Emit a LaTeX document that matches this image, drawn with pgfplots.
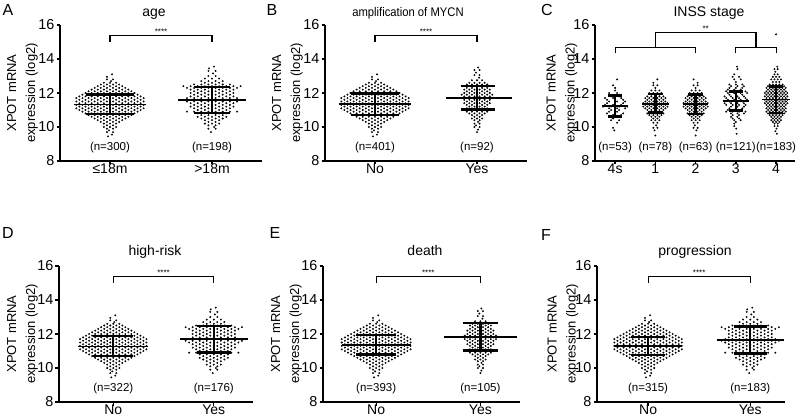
\documentclass[border=0pt]{standalone}
\usepackage{pgfplots}
\usepackage{pgfplotstable}
\pgfplotsset{compat=1.18}
\usepackage{fontspec}
\setmainfont{Liberation Sans}
\newcommand{\fs}[1]{\fontsize{#1}{#1}\selectfont}

% ---- beeswarm point clouds (x = offset from category, y = log2 expression)
\pgfplotstableread[row sep=\\]{
x y\\
0.02 13.10\\ -0.03 12.95\\ -0.03 12.80\\ 0.03 12.80\\ 0.01 12.70\\
-0.06 12.60\\ 0 12.60\\ 0.06 12.60\\
-0.09 12.50\\ -0.03 12.50\\ 0.03 12.50\\ 0.09 12.50\\
-0.12 12.40\\ -0.06 12.40\\ 0 12.40\\ 0.06 12.40\\ 0.12 12.40\\
-0.15 12.30\\ -0.09 12.30\\ -0.03 12.30\\ 0.03 12.30\\ 0.09 12.30\\ 0.15 12.30\\
-0.18 12.20\\ -0.12 12.20\\ -0.06 12.20\\ 0 12.20\\ 0.06 12.20\\ 0.12 12.20\\ 0.18 12.20\\
-0.21 12.10\\ -0.15 12.10\\ -0.09 12.10\\ -0.03 12.10\\ 0.03 12.10\\ 0.09 12.10\\ 0.15 12.10\\ 0.21 12.10\\
-0.24 12.00\\ -0.18 12.00\\ -0.12 12.00\\ -0.06 12.00\\ 0 12.00\\ 0.06 12.00\\ 0.12 12.00\\ 0.18 12.00\\ 0.24 12.00\\
-0.27 11.90\\ -0.21 11.90\\ -0.15 11.90\\ -0.09 11.90\\ -0.03 11.90\\ 0.03 11.90\\ 0.09 11.90\\ 0.15 11.90\\ 0.21 11.90\\ 0.27 11.90\\
-0.30 11.80\\ -0.24 11.80\\ -0.18 11.80\\ -0.12 11.80\\ -0.06 11.80\\ 0 11.80\\ 0.06 11.80\\ 0.12 11.80\\ 0.18 11.80\\ 0.24 11.80\\ 0.30 11.80\\
-0.33 11.70\\ -0.27 11.70\\ -0.21 11.70\\ -0.15 11.70\\ -0.09 11.70\\ -0.03 11.70\\ 0.03 11.70\\ 0.09 11.70\\ 0.15 11.70\\ 0.21 11.70\\ 0.27 11.70\\ 0.33 11.70\\
-0.30 11.60\\ -0.24 11.60\\ -0.18 11.60\\ -0.12 11.60\\ -0.06 11.60\\ 0 11.60\\ 0.06 11.60\\ 0.12 11.60\\ 0.18 11.60\\ 0.24 11.60\\ 0.30 11.60\\
-0.33 11.50\\ -0.27 11.50\\ -0.21 11.50\\ -0.15 11.50\\ -0.09 11.50\\ -0.03 11.50\\ 0.03 11.50\\ 0.09 11.50\\ 0.15 11.50\\ 0.21 11.50\\ 0.27 11.50\\ 0.33 11.50\\
-0.30 11.40\\ -0.24 11.40\\ -0.18 11.40\\ -0.12 11.40\\ -0.06 11.40\\ 0 11.40\\ 0.06 11.40\\ 0.12 11.40\\ 0.18 11.40\\ 0.24 11.40\\ 0.30 11.40\\
-0.33 11.30\\ -0.27 11.30\\ -0.21 11.30\\ -0.15 11.30\\ -0.09 11.30\\ -0.03 11.30\\ 0.03 11.30\\ 0.09 11.30\\ 0.15 11.30\\ 0.21 11.30\\ 0.27 11.30\\ 0.33 11.30\\
-0.30 11.20\\ -0.24 11.20\\ -0.18 11.20\\ -0.12 11.20\\ -0.06 11.20\\ 0 11.20\\ 0.06 11.20\\ 0.12 11.20\\ 0.18 11.20\\ 0.24 11.20\\ 0.30 11.20\\
-0.33 11.10\\ -0.27 11.10\\ -0.21 11.10\\ -0.15 11.10\\ -0.09 11.10\\ -0.03 11.10\\ 0.03 11.10\\ 0.09 11.10\\ 0.15 11.10\\ 0.21 11.10\\ 0.27 11.10\\ 0.33 11.10\\
-0.30 11.00\\ -0.24 11.00\\ -0.18 11.00\\ -0.12 11.00\\ -0.06 11.00\\ 0 11.00\\ 0.06 11.00\\ 0.12 11.00\\ 0.18 11.00\\ 0.24 11.00\\ 0.30 11.00\\
-0.27 10.90\\ -0.21 10.90\\ -0.15 10.90\\ -0.09 10.90\\ -0.03 10.90\\ 0.03 10.90\\ 0.09 10.90\\ 0.15 10.90\\ 0.21 10.90\\ 0.27 10.90\\
-0.24 10.80\\ -0.18 10.80\\ -0.12 10.80\\ -0.06 10.80\\ 0 10.80\\ 0.06 10.80\\ 0.12 10.80\\ 0.18 10.80\\ 0.24 10.80\\
-0.21 10.70\\ -0.15 10.70\\ -0.09 10.70\\ -0.03 10.70\\ 0.03 10.70\\ 0.09 10.70\\ 0.15 10.70\\ 0.21 10.70\\
-0.18 10.60\\ -0.12 10.60\\ -0.06 10.60\\ 0 10.60\\ 0.06 10.60\\ 0.12 10.60\\ 0.18 10.60\\
-0.15 10.50\\ -0.09 10.50\\ -0.03 10.50\\ 0.03 10.50\\ 0.09 10.50\\ 0.15 10.50\\
-0.12 10.40\\ -0.06 10.40\\ 0 10.40\\ 0.06 10.40\\ 0.12 10.40\\
-0.09 10.30\\ -0.03 10.30\\ 0.03 10.30\\ 0.09 10.30\\
-0.06 10.20\\ 0 10.20\\ 0.06 10.20\\
-0.03 10.10\\ 0.03 10.10\\
-0.06 10.00\\ 0 10.00\\ 0.06 10.00\\
-0.03 9.90\\ 0.03 9.90\\
-0.01 9.80\\ -0.03 9.70\\ 0.03 9.70\\ 0.02 9.55\\ -0.02 9.45\\
}\NOtab

\pgfplotstableread[row sep=\\]{
x y\\
0.02 13.55\\ -0.03 13.45\\ -0.035 13.30\\ 0.035 13.30\\ 0.01 13.15\\ -0.035 13.00\\ 0.035 13.00\\
-0.07 12.85\\ 0 12.85\\ 0.07 12.85\\
-0.105 12.70\\ -0.035 12.70\\ 0.035 12.70\\ 0.105 12.70\\
-0.07 12.60\\ 0 12.60\\ 0.07 12.60\\
-0.175 12.50\\ -0.105 12.50\\ -0.035 12.50\\ 0.035 12.50\\ 0.105 12.50\\ 0.175 12.50\\
-0.28 12.40\\ -0.21 12.40\\ -0.14 12.40\\ -0.07 12.40\\ 0 12.40\\ 0.07 12.40\\ 0.14 12.40\\ 0.21 12.40\\ 0.28 12.40\\
-0.245 12.30\\ -0.175 12.30\\ -0.105 12.30\\ -0.035 12.30\\ 0.035 12.30\\ 0.105 12.30\\ 0.175 12.30\\ 0.245 12.30\\
-0.21 12.20\\ -0.14 12.20\\ -0.07 12.20\\ 0 12.20\\ 0.07 12.20\\ 0.14 12.20\\ 0.21 12.20\\
-0.175 12.10\\ -0.105 12.10\\ -0.035 12.10\\ 0.035 12.10\\ 0.105 12.10\\ 0.175 12.10\\
-0.21 12.00\\ -0.14 12.00\\ -0.07 12.00\\ 0 12.00\\ 0.07 12.00\\ 0.14 12.00\\ 0.21 12.00\\
-0.175 11.90\\ -0.105 11.90\\ -0.035 11.90\\ 0.035 11.90\\ 0.105 11.90\\ 0.175 11.90\\
-0.21 11.80\\ -0.14 11.80\\ -0.07 11.80\\ 0 11.80\\ 0.07 11.80\\ 0.14 11.80\\ 0.21 11.80\\
-0.245 11.70\\ -0.175 11.70\\ -0.105 11.70\\ -0.035 11.70\\ 0.035 11.70\\ 0.105 11.70\\ 0.175 11.70\\ 0.245 11.70\\
-0.28 11.60\\ -0.21 11.60\\ -0.14 11.60\\ -0.07 11.60\\ 0 11.60\\ 0.07 11.60\\ 0.14 11.60\\ 0.21 11.60\\ 0.28 11.60\\
-0.245 11.50\\ -0.175 11.50\\ -0.105 11.50\\ -0.035 11.50\\ 0.035 11.50\\ 0.105 11.50\\ 0.175 11.50\\ 0.245 11.50\\
-0.21 11.40\\ -0.14 11.40\\ -0.07 11.40\\ 0 11.40\\ 0.07 11.40\\ 0.14 11.40\\ 0.21 11.40\\
-0.175 11.30\\ -0.105 11.30\\ -0.035 11.30\\ 0.035 11.30\\ 0.105 11.30\\ 0.175 11.30\\
-0.21 11.20\\ -0.14 11.20\\ -0.07 11.20\\ 0 11.20\\ 0.07 11.20\\ 0.14 11.20\\ 0.21 11.20\\
-0.175 11.10\\ -0.105 11.10\\ -0.035 11.10\\ 0.035 11.10\\ 0.105 11.10\\ 0.175 11.10\\
-0.14 11.00\\ -0.07 11.00\\ 0 11.00\\ 0.07 11.00\\ 0.14 11.00\\
-0.245 10.90\\ -0.175 10.90\\ -0.105 10.90\\ -0.035 10.90\\ 0.035 10.90\\ 0.105 10.90\\ 0.175 10.90\\ 0.245 10.90\\
-0.14 10.80\\ -0.07 10.80\\ 0 10.80\\ 0.07 10.80\\ 0.14 10.80\\
-0.105 10.70\\ -0.035 10.70\\ 0.035 10.70\\ 0.105 10.70\\
-0.14 10.60\\ -0.07 10.60\\ 0 10.60\\ 0.07 10.60\\ 0.14 10.60\\
-0.105 10.50\\ -0.035 10.50\\ 0.035 10.50\\ 0.105 10.50\\
-0.07 10.40\\ 0 10.40\\ 0.07 10.40\\
-0.035 10.30\\ 0.035 10.30\\
-0.07 10.20\\ 0 10.20\\ 0.07 10.20\\
-0.035 10.10\\ 0.035 10.10\\
0.02 10.00\\ -0.035 9.90\\ 0.035 9.90\\ -0.01 9.70\\
}\YWtab

\pgfplotstableread[row sep=\\]{
x y\\
0.01 13.50\\ -0.025 13.35\\ 0.025 13.35\\ -0.01 13.20\\ -0.025 13.05\\ 0.025 13.05\\ 0.02 12.90\\
-0.05 12.75\\ 0 12.75\\ 0.05 12.75\\
-0.075 12.60\\ -0.025 12.60\\ 0.025 12.60\\ 0.075 12.60\\
-0.10 12.50\\ -0.05 12.50\\ 0 12.50\\ 0.05 12.50\\ 0.10 12.50\\
-0.075 12.40\\ -0.025 12.40\\ 0.025 12.40\\ 0.075 12.40\\
-0.10 12.30\\ -0.05 12.30\\ 0 12.30\\ 0.05 12.30\\ 0.10 12.30\\
-0.125 12.20\\ -0.075 12.20\\ -0.025 12.20\\ 0.025 12.20\\ 0.075 12.20\\ 0.125 12.20\\
-0.10 12.10\\ -0.05 12.10\\ 0 12.10\\ 0.05 12.10\\ 0.10 12.10\\
-0.125 12.00\\ -0.075 12.00\\ -0.025 12.00\\ 0.025 12.00\\ 0.075 12.00\\ 0.125 12.00\\
-0.15 11.90\\ -0.10 11.90\\ -0.05 11.90\\ 0 11.90\\ 0.05 11.90\\ 0.10 11.90\\ 0.15 11.90\\
-0.125 11.80\\ -0.075 11.80\\ -0.025 11.80\\ 0.025 11.80\\ 0.075 11.80\\ 0.125 11.80\\
-0.15 11.70\\ -0.10 11.70\\ -0.05 11.70\\ 0 11.70\\ 0.05 11.70\\ 0.10 11.70\\ 0.15 11.70\\
-0.125 11.60\\ -0.075 11.60\\ -0.025 11.60\\ 0.025 11.60\\ 0.075 11.60\\ 0.125 11.60\\
-0.10 11.50\\ -0.05 11.50\\ 0 11.50\\ 0.05 11.50\\ 0.10 11.50\\
-0.125 11.40\\ -0.075 11.40\\ -0.025 11.40\\ 0.025 11.40\\ 0.075 11.40\\ 0.125 11.40\\
-0.10 11.30\\ -0.05 11.30\\ 0 11.30\\ 0.05 11.30\\ 0.10 11.30\\
-0.075 11.20\\ -0.025 11.20\\ 0.025 11.20\\ 0.075 11.20\\
-0.10 11.10\\ -0.05 11.10\\ 0 11.10\\ 0.05 11.10\\ 0.10 11.10\\
-0.075 11.00\\ -0.025 11.00\\ 0.025 11.00\\ 0.075 11.00\\
-0.10 10.90\\ -0.05 10.90\\ 0 10.90\\ 0.05 10.90\\ 0.10 10.90\\
-0.075 10.80\\ -0.025 10.80\\ 0.025 10.80\\ 0.075 10.80\\
-0.05 10.70\\ 0 10.70\\ 0.05 10.70\\
-0.025 10.60\\ 0.025 10.60\\
-0.05 10.50\\ 0 10.50\\ 0.05 10.50\\
-0.025 10.40\\ 0.025 10.40\\
0.01 10.30\\ -0.025 10.20\\ 0.025 10.20\\ -0.01 10.10\\ -0.025 10.00\\ 0.025 10.00\\
0.01 9.85\\ 0 9.70\\
}\YNtab

\pgfplotstableread[row sep=\\]{
x y\\
0.05 12.80\\ -0.05 12.60\\ -0.05 12.45\\ 0.05 12.45\\ 0 12.30\\
-0.1 12.15\\ 0 12.15\\ 0.1 12.15\\
-0.15 12.00\\ -0.05 12.00\\ 0.05 12.00\\ 0.15 12.00\\
-0.1 11.90\\ 0 11.90\\ 0.1 11.90\\
-0.2 11.80\\ -0.1 11.80\\ 0 11.80\\ 0.1 11.80\\ 0.2 11.80\\
-0.25 11.70\\ -0.15 11.70\\ -0.05 11.70\\ 0.05 11.70\\ 0.15 11.70\\ 0.25 11.70\\
-0.2 11.60\\ -0.1 11.60\\ 0 11.60\\ 0.1 11.60\\ 0.2 11.60\\
-0.25 11.50\\ -0.15 11.50\\ -0.05 11.50\\ 0.05 11.50\\ 0.15 11.50\\ 0.25 11.50\\
-0.3 11.40\\ -0.2 11.40\\ -0.1 11.40\\ 0 11.40\\ 0.1 11.40\\ 0.2 11.40\\ 0.3 11.40\\
-0.25 11.30\\ -0.15 11.30\\ -0.05 11.30\\ 0.05 11.30\\ 0.15 11.30\\ 0.25 11.30\\
-0.3 11.20\\ -0.2 11.20\\ -0.1 11.20\\ 0 11.20\\ 0.1 11.20\\ 0.2 11.20\\ 0.3 11.20\\
-0.25 11.10\\ -0.15 11.10\\ -0.05 11.10\\ 0.05 11.10\\ 0.15 11.10\\ 0.25 11.10\\
-0.2 11.00\\ -0.1 11.00\\ 0 11.00\\ 0.1 11.00\\ 0.2 11.00\\
-0.15 10.90\\ -0.05 10.90\\ 0.05 10.90\\ 0.15 10.90\\
-0.2 10.80\\ -0.1 10.80\\ 0 10.80\\ 0.1 10.80\\ 0.2 10.80\\
-0.15 10.70\\ -0.05 10.70\\ 0.05 10.70\\ 0.15 10.70\\
-0.1 10.60\\ 0 10.60\\ 0.1 10.60\\
-0.05 10.50\\ 0.05 10.50\\
-0.1 10.40\\ 0 10.40\\ 0.1 10.40\\
-0.05 10.25\\ 0.05 10.25\\ 0.02 10.10\\ -0.05 9.95\\ 0.05 9.95\\ -0.02 9.80\\ 0 9.50\\
}\CStab

\pgfplotstableread[row sep=\\]{
x y\\
0.03 13.55\\ -0.04 13.40\\ 0.04 13.40\\ -0.02 13.25\\ -0.04 13.10\\ 0.04 13.10\\
-0.08 12.95\\ 0 12.95\\ 0.08 12.95\\
-0.12 12.80\\ -0.04 12.80\\ 0.04 12.80\\ 0.12 12.80\\
-0.08 12.65\\ 0 12.65\\ 0.08 12.65\\
-0.16 12.50\\ -0.08 12.50\\ 0 12.50\\ 0.08 12.50\\ 0.16 12.50\\
-0.2 12.40\\ -0.12 12.40\\ -0.04 12.40\\ 0.04 12.40\\ 0.12 12.40\\ 0.2 12.40\\
-0.24 12.30\\ -0.16 12.30\\ -0.08 12.30\\ 0 12.30\\ 0.08 12.30\\ 0.16 12.30\\ 0.24 12.30\\
-0.2 12.20\\ -0.12 12.20\\ -0.04 12.20\\ 0.04 12.20\\ 0.12 12.20\\ 0.2 12.20\\
-0.24 12.10\\ -0.16 12.10\\ -0.08 12.10\\ 0 12.10\\ 0.08 12.10\\ 0.16 12.10\\ 0.24 12.10\\
-0.28 12.00\\ -0.2 12.00\\ -0.12 12.00\\ -0.04 12.00\\ 0.04 12.00\\ 0.12 12.00\\ 0.2 12.00\\ 0.28 12.00\\
-0.24 11.90\\ -0.16 11.90\\ -0.08 11.90\\ 0 11.90\\ 0.08 11.90\\ 0.16 11.90\\ 0.24 11.90\\
-0.28 11.80\\ -0.2 11.80\\ -0.12 11.80\\ -0.04 11.80\\ 0.04 11.80\\ 0.12 11.80\\ 0.2 11.80\\ 0.28 11.80\\
-0.24 11.70\\ -0.16 11.70\\ -0.08 11.70\\ 0 11.70\\ 0.08 11.70\\ 0.16 11.70\\ 0.24 11.70\\
-0.28 11.60\\ -0.2 11.60\\ -0.12 11.60\\ -0.04 11.60\\ 0.04 11.60\\ 0.12 11.60\\ 0.2 11.60\\ 0.28 11.60\\
-0.24 11.50\\ -0.16 11.50\\ -0.08 11.50\\ 0 11.50\\ 0.08 11.50\\ 0.16 11.50\\ 0.24 11.50\\
-0.28 11.40\\ -0.2 11.40\\ -0.12 11.40\\ -0.04 11.40\\ 0.04 11.40\\ 0.12 11.40\\ 0.2 11.40\\ 0.28 11.40\\
-0.24 11.30\\ -0.16 11.30\\ -0.08 11.30\\ 0 11.30\\ 0.08 11.30\\ 0.16 11.30\\ 0.24 11.30\\
-0.2 11.20\\ -0.12 11.20\\ -0.04 11.20\\ 0.04 11.20\\ 0.12 11.20\\ 0.2 11.20\\
-0.24 11.10\\ -0.16 11.10\\ -0.08 11.10\\ 0 11.10\\ 0.08 11.10\\ 0.16 11.10\\ 0.24 11.10\\
-0.2 11.00\\ -0.12 11.00\\ -0.04 11.00\\ 0.04 11.00\\ 0.12 11.00\\ 0.2 11.00\\
-0.24 10.90\\ -0.16 10.90\\ -0.08 10.90\\ 0 10.90\\ 0.08 10.90\\ 0.16 10.90\\ 0.24 10.90\\
-0.2 10.80\\ -0.12 10.80\\ -0.04 10.80\\ 0.04 10.80\\ 0.12 10.80\\ 0.2 10.80\\
-0.16 10.70\\ -0.08 10.70\\ 0 10.70\\ 0.08 10.70\\ 0.16 10.70\\
-0.12 10.60\\ -0.04 10.60\\ 0.04 10.60\\ 0.12 10.60\\
-0.08 10.50\\ 0 10.50\\ 0.08 10.50\\
-0.12 10.40\\ -0.04 10.40\\ 0.04 10.40\\ 0.12 10.40\\
-0.08 10.30\\ 0 10.30\\ 0.08 10.30\\
-0.04 10.20\\ 0.04 10.20\\ -0.04 10.05\\ 0.04 10.05\\
0.01 9.90\\ -0.02 9.75\\ 0.02 9.60\\
}\CLtab

% mean line and SD bars: x, mean, lo, hi, mean-left, mean-right, cap-left, cap-right
\newcommand{\msd}[8]{%
  \addplot[black, line width=1.6pt] coordinates {(#5,#2) (#6,#2)};
  \addplot[black, line width=2.4pt] coordinates {(#1,#3) (#1,#4)};
  \addplot[black, line width=2.4pt] coordinates {(#7,#3) (#8,#3)};
  \addplot[black, line width=2.4pt] coordinates {(#7,#4) (#8,#4)};
}

\pgfplotsset{
  panel/.style={
    scale only axis, anchor=south west, height=136pt,
    ymin=8, ymax=16, ytick={8,10,12,14,16},
    axis x line*=bottom, axis y line*=left,
    axis line style={-, line width=1.3pt, black},
    tick pos=left, tick align=outside, major tick length=3.5pt,
    tick style={black, line width=1.3pt},
    yticklabel style={font=\fs{14.4}, xshift=1.5pt},
    xticklabel style={font=\fs{14}, yshift=4.5pt},
    /pgf/number format/assume math mode=true,
    clip=false,
  },
  dots/.style={only marks, mark=*, mark size=0.75pt, mark options={draw=none, fill=black!80}},
  br/.style={black, line width=1.1pt},
}
\tikzset{
  stars/.style={font=\fs{8}, anchor=south, inner sep=0.5pt},
  nlab/.style={font=\fs{11.5}},
  letter/.style={font=\fs{16}, anchor=base},
  ttl/.style={font=\fs{14}, anchor=base},
  ylab/.style={font=\fontsize{13}{19}\selectfont, rotate=90, align=center},
}

\begin{document}
\begin{tikzpicture}[x=1pt,y=1pt]
\path[use as bounding box] (0,0) rectangle (800,418);

% ---------------- A
\begin{axis}[panel, at={(60pt,257pt)}, width=202pt, xmin=-0.49, xmax=1.49,
  xtick={0,1}, xticklabels={≤18m,>18m}]
\addplot[dots] table[x=x,y=y]{\NOtab};
\addplot[dots] table[x expr=\thisrow{x}+1,y=y]{\YWtab};
\msd{0}{11.33}{10.77}{11.92}{-0.35}{0.35}{-0.24}{0.24}
\msd{1}{11.59}{10.84}{12.34}{0.67}{1.33}{0.82}{1.18}
\addplot[br] coordinates {(0,15.0) (0,15.4) (1,15.4) (1,15.0)};
\node[stars] at (axis cs:0.5,15.4) {****};
\node[nlab] at (axis cs:0,8.8) {(n=300)};
\node[nlab] at (axis cs:1,8.8) {(n=198)};
\end{axis}

% ---------------- B
\begin{axis}[panel, at={(325pt,257pt)}, width=202pt, xmin=-0.49, xmax=1.49,
  xtick={0,1}, xticklabels={No,Yes}]
\addplot[dots] table[x=x,y=y]{\NOtab};
\addplot[dots] table[x expr=\thisrow{x}+1,y=y]{\YNtab};
\msd{0}{11.35}{10.71}{11.98}{-0.35}{0.35}{-0.24}{0.24}
\msd{1}{11.72}{11.04}{12.41}{0.70}{1.34}{0.84}{1.18}
\addplot[br] coordinates {(0,15.0) (0,15.4) (1,15.4) (1,15.0)};
\node[stars] at (axis cs:0.5,15.4) {****};
\node[nlab] at (axis cs:0,8.8) {(n=401)};
\node[nlab] at (axis cs:1,8.8) {(n=92)};
\end{axis}

% ---------------- C
\begin{axis}[panel, at={(595pt,257pt)}, width=200pt, xmin=-0.5, xmax=4.47,
  xtick={0,1,2,3,4}, xticklabels={4s,1,2,3,4}]
\addplot[dots, each nth point=2, filter discard warning=false] table[x=x,y=y]{\CStab};
\addplot[dots] table[x expr=\thisrow{x}+1,y=y]{\CStab};
\addplot[dots] table[x expr=2-\thisrow{x},y=y]{\CStab};
\addplot[dots, each nth point=2, filter discard warning=false] table[x expr=\thisrow{x}+3,y=y]{\CLtab};
\addplot[dots] table[x expr=\thisrow{x}+4,y=y]{\CLtab};
\addplot[dots] coordinates {(4.0,15.45)};
\msd{0}{11.23}{10.61}{11.86}{-0.32}{0.32}{-0.17}{0.17}
\msd{1}{11.37}{10.85}{11.95}{0.66}{1.34}{0.81}{1.19}
\msd{2}{11.34}{10.76}{11.92}{1.68}{2.32}{1.82}{2.18}
\msd{3}{11.52}{10.97}{12.08}{2.68}{3.32}{2.82}{3.18}
\msd{4}{11.62}{10.84}{12.39}{3.66}{4.34}{3.82}{4.18}
\addplot[br] coordinates {(0,14.35) (0,14.7) (2,14.7) (2,14.35)};
\addplot[br] coordinates {(3,14.35) (3,14.7) (4,14.7) (4,14.35)};
\addplot[br] coordinates {(1,14.7) (1,15.55) (3.5,15.55) (3.5,14.7)};
\node[stars] at (axis cs:2.25,15.55) {**};
\node[nlab] at (axis cs:0,8.8) {(n=53)};
\node[nlab] at (axis cs:1,8.8) {(n=78)};
\node[nlab] at (axis cs:2,8.8) {(n=63)};
\node[nlab] at (axis cs:3,8.8) {(n=121)};
\node[nlab] at (axis cs:4,8.8) {(n=183)};
\end{axis}

% ---------------- D
\begin{axis}[panel, at={(59pt,16pt)}, width=194pt, xmin=-0.54, xmax=1.39,
  xtick={0,1}, xticklabels={No,Yes}]
\addplot[dots] table[x=x,y=y]{\NOtab};
\addplot[dots] table[x expr=\thisrow{x}+1,y=y]{\YWtab};
\msd{0}{11.27}{10.71}{11.88}{-0.35}{0.35}{-0.20}{0.20}
\msd{1}{11.69}{10.92}{12.48}{0.66}{1.34}{0.83}{1.17}
\addplot[br] coordinates {(0,15.0) (0,15.4) (1,15.4) (1,15.0)};
\node[stars] at (axis cs:0.5,15.4) {****};
\node[nlab] at (axis cs:0,8.8) {(n=322)};
\node[nlab] at (axis cs:1,8.8) {(n=176)};
\end{axis}

% ---------------- E
\begin{axis}[panel, at={(323pt,16pt)}, width=197pt, xmin=-0.51, xmax=1.38,
  xtick={0,1}, xticklabels={No,Yes}]
\addplot[dots] table[x=x,y=y]{\NOtab};
\addplot[dots] table[x expr=\thisrow{x}+1,y=y]{\YNtab};
\msd{0}{11.35}{10.79}{11.93}{-0.33}{0.33}{-0.19}{0.19}
\msd{1}{11.83}{11.02}{12.65}{0.65}{1.35}{0.83}{1.17}
\addplot[br] coordinates {(0,15.0) (0,15.4) (1,15.4) (1,15.0)};
\node[stars] at (axis cs:0.5,15.4) {****};
\node[nlab] at (axis cs:0,8.8) {(n=393)};
\node[nlab] at (axis cs:1,8.8) {(n=105)};
\end{axis}

% ---------------- F
\begin{axis}[panel, at={(597pt,16pt)}, width=188pt, xmin=-0.5, xmax=1.34,
  xtick={0,1}, xticklabels={No,Yes}]
\addplot[dots] table[x=x,y=y]{\NOtab};
\addplot[dots] table[x expr=\thisrow{x}+1,y=y]{\YWtab};
\msd{0}{11.30}{10.78}{11.84}{-0.33}{0.33}{-0.17}{0.17}
\msd{1}{11.65}{10.86}{12.44}{0.67}{1.33}{0.84}{1.16}
\addplot[br] coordinates {(0,15.0) (0,15.4) (1,15.4) (1,15.0)};
\node[stars] at (axis cs:0.5,15.4) {****};
\node[nlab] at (axis cs:0,8.8) {(n=315)};
\node[nlab] at (axis cs:1,8.8) {(n=183)};
\end{axis}

% ---------------- letters, titles, y labels
\node[letter] at (8,402) {A};
\node[letter] at (272,402) {B};
\node[letter] at (547,402) {C};
\node[letter] at (8,179) {D};
\node[letter] at (275,179) {E};
\node[letter] at (546,177) {F};
\node[ttl] at (154,401) {age};
\node[ttl, font=\fs{12.5}, xscale=0.9] at (408,401) {amplification of MYCN};
\node[ttl] at (709,401) {INSS stage};
\node[ttl] at (155,163) {high-risk};
\node[ttl] at (425,163) {death};
\node[ttl] at (695,163) {progression};
\node[ylab] at (22.5,325) {XPOT mRNA\\expression (log2)};
\node[ylab] at (287.5,325) {XPOT mRNA\\expression (log2)};
\node[ylab] at (562,325) {XPOT mRNA\\expression (log2)};
\node[ylab] at (22.5,84) {XPOT mRNA\\expression (log2)};
\node[ylab] at (286.5,84) {XPOT mRNA\\expression (log2)};
\node[ylab] at (563,84) {XPOT mRNA\\expression (log2)};
\end{tikzpicture}
\end{document}
